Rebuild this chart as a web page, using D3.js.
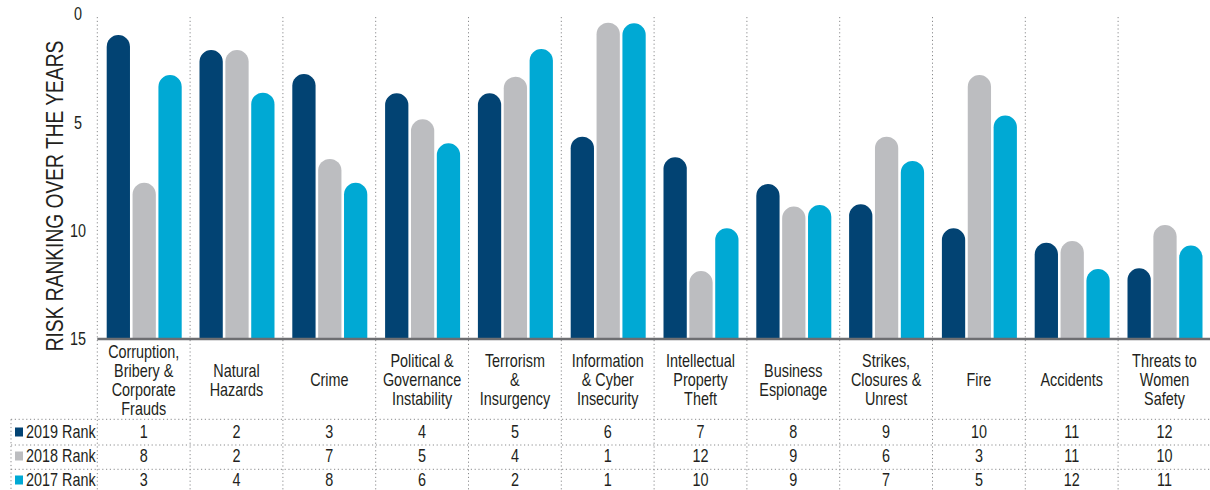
<!DOCTYPE html>
<html>
<head>
    <meta charset="utf-8">
    <title>Risk Ranking Over the Years</title>
    <script type="text/javascript" src="https://cdn.jsdelivr.net/npm/d3@7"></script>
    <style>
        body { margin: 0; background: #ffffff; }
        svg text {
            font-family: "Liberation Sans", "Roboto", "DejaVu Sans", sans-serif;
            fill: #231f20;
        }
    </style>
</head>
<body>
    <div id="chart"></div>

    <script>
    // categories (one label line per array entry)
    var categories = [
        ["Corruption,", "Bribery &", "Corporate", "Frauds"],
        ["Natural", "Hazards"],
        ["Crime"],
        ["Political &", "Governance", "Instability"],
        ["Terrorism", "&", "Insurgency"],
        ["Information", "& Cyber", "Insecurity"],
        ["Intellectual", "Property", "Theft"],
        ["Business", "Espionage"],
        ["Strikes,", "Closures &", "Unrest"],
        ["Fire"],
        ["Accidents"],
        ["Threats to", "Women", "Safety"]
    ];

    var seriesNames = ["2019 Rank", "2018 Rank", "2017 Rank"];
    var seriesColors = ["#024373", "#bcbdc0", "#00a9d4"];

    // ranks as printed in the table
    var rank2019 = [1, 2, 3, 4, 5, 6, 7, 8, 9, 10, 11, 12];
    var rank2018 = [8, 2, 7, 5, 4, 1, 12, 9, 6, 3, 11, 10];
    var rank2017 = [3, 4, 8, 6, 2, 1, 10, 9, 7, 5, 12, 11];

    // bar tops as drawn in the picture (read against the 0-15 axis)
    var bar2019 = [0.97, 1.66, 2.77, 3.66, 3.66, 5.66, 6.61, 7.85, 8.78, 9.89, 10.56, 11.74];
    var bar2018 = [7.79, 1.66, 6.69, 4.86, 2.89, 0.40, 11.86, 8.89, 5.66, 2.82, 10.48, 9.74];
    var bar2017 = [2.82, 3.63, 7.79, 5.97, 1.62, 0.43, 9.89, 8.82, 6.78, 4.69, 11.77, 10.69];

    var yTicks = [0, 5, 10, 15];

    var ranks = [rank2019, rank2018, rank2017];
    var bars = [bar2019, bar2018, bar2017];

    var W = 1210, H = 490;
    var plotLeft = 97.3, plotRight = 1210.9;
    var gridTop = 17, baseY = 339;
    var labelCenterY = 380;
    var rowLines = [419.3, 445, 469.3];
    var rowCenters = [432, 456, 480];
    var tableLeft = 11;
    var narrow = 0.8;   // horizontal squeeze to get a condensed face

    var svg = d3.select("#chart").append("svg")
        .attr("width", W)
        .attr("height", H);

    var x = d3.scaleBand()
        .domain(d3.range(categories.length))
        .range([plotLeft, plotRight])
        .padding(0);

    var colW = x.bandwidth();
    var inner = d3.scaleBand()
        .domain(d3.range(seriesNames.length))
        .range([9.4, colW - 8.4])
        .paddingInner(0.1)
        .paddingOuter(0);

    var y = d3.scaleLinear().domain([0, 15]).range([14, baseY]);

    var dotted = "1.2,2.6";
    var gridColor = "#8a8b8d";

    // condensed text helper
    function addText(parent, px, py, str, size, anchor, rotate) {
        var g = parent.append("g")
            .attr("transform", "translate(" + px + "," + py + ")" +
                (rotate ? " rotate(" + rotate + ")" : "") +
                " scale(" + narrow + ",1)");
        return g.append("text")
            .attr("text-anchor", anchor || "middle")
            .attr("dy", "0.35em")
            .style("font-size", size + "px")
            .text(str);
    }

    // vertical dotted separators (through chart, labels and table)
    var seps = d3.range(categories.length).map(function(i) { return x(i); });
    svg.append("g").selectAll("line")
        .data(seps)
        .enter().append("line")
        .attr("x1", function(d) { return d; })
        .attr("x2", function(d) { return d; })
        .attr("y1", gridTop)
        .attr("y2", H)
        .attr("stroke", gridColor)
        .attr("stroke-width", 1)
        .attr("stroke-dasharray", dotted);

    svg.append("line")
        .attr("x1", tableLeft).attr("x2", tableLeft)
        .attr("y1", rowLines[0]).attr("y2", H)
        .attr("stroke", gridColor)
        .attr("stroke-width", 1)
        .attr("stroke-dasharray", dotted);

    // horizontal dotted lines of the table
    svg.append("g").selectAll("line")
        .data(rowLines)
        .enter().append("line")
        .attr("x1", tableLeft)
        .attr("x2", W)
        .attr("y1", function(d) { return d; })
        .attr("y2", function(d) { return d; })
        .attr("stroke", gridColor)
        .attr("stroke-width", 1)
        .attr("stroke-dasharray", dotted);

    // bars with rounded tops
    function barPath(x0, w, top, bottom) {
        var r = w / 2;
        return "M" + x0 + "," + bottom +
            "L" + x0 + "," + (top + r) +
            "A" + r + "," + r + " 0 0 1 " + (x0 + w) + "," + (top + r) +
            "L" + (x0 + w) + "," + bottom + "Z";
    }

    var barData = [];
    categories.forEach(function(c, i) {
        seriesNames.forEach(function(s, j) {
            barData.push({ cat: i, ser: j, value: bars[j][i] });
        });
    });

    svg.append("g").selectAll("path")
        .data(barData)
        .enter().append("path")
        .attr("d", function(d) {
            return barPath(x(d.cat) + inner(d.ser), inner.bandwidth(), y(d.value), y(15));
        })
        .attr("fill", function(d) { return seriesColors[d.ser]; });

    // baseline
    svg.append("line")
        .attr("x1", plotLeft).attr("x2", W)
        .attr("y1", baseY).attr("y2", baseY)
        .attr("stroke", "#6d6e71")
        .attr("stroke-width", 2.5);

    // y tick labels
    yTicks.forEach(function(t) {
        addText(svg, 78, y(t), t, 18, "middle");
    });

    // y axis title
    addText(svg, 55, 196, "RISK RANKING OVER THE YEARS", 24, "middle", -90);

    // category labels
    var lineH = 19;
    categories.forEach(function(lines, i) {
        var cx = x(i) + colW / 2;
        var y0 = labelCenterY - (lines.length - 1) * lineH / 2;
        lines.forEach(function(line, k) {
            addText(svg, cx, y0 + k * lineH, line, 18, "middle");
        });
    });

    // table rows
    seriesNames.forEach(function(name, j) {
        var cy = rowCenters[j];
        svg.append("rect")
            .attr("x", 15)
            .attr("y", cy - 4.5)
            .attr("width", 8)
            .attr("height", 9)
            .attr("fill", seriesColors[j]);
        addText(svg, 26, cy, name, 18, "start");
        ranks[j].forEach(function(v, i) {
            addText(svg, x(i) + colW / 2, cy, v, 18, "middle");
        });
    });
    </script>
</body>
</html>
